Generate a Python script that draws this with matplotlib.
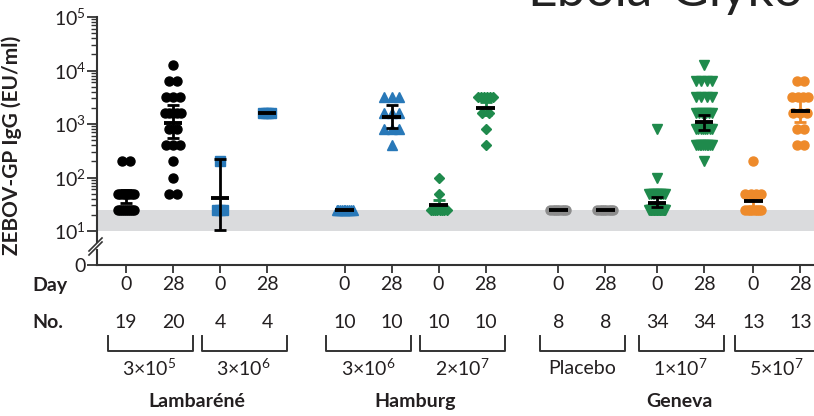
import numpy as np
import matplotlib
matplotlib.use('Agg')
import matplotlib.pyplot as plt
from matplotlib.ticker import FixedLocator, NullFormatter

plt.rcParams['font.family'] = ['Lato', 'DejaVu Sans']
plt.rcParams['mathtext.fontset'] = 'custom'
plt.rcParams['mathtext.rm'] = 'Lato'
plt.rcParams['mathtext.it'] = 'Lato:italic'
plt.rcParams['mathtext.bf'] = 'Lato:bold'

# titer levels (twofold dilutions) and number of subjects at each level per group
titer_levels = [25, 50, 100, 200, 400, 800, 1600, 3200, 6400, 12800]

lamb_3e5_d0 = [9, 8, 0, 2, 0, 0, 0, 0, 0, 0]
lamb_3e5_d28 = [0, 2, 1, 1, 3, 2, 5, 3, 2, 1]
lamb_3e6_d0 = [3, 0, 0, 1, 0, 0, 0, 0, 0, 0]
lamb_3e6_d28 = [0, 0, 0, 0, 0, 0, 4, 0, 0, 0]
ham_3e6_d0 = [10, 0, 0, 0, 0, 0, 0, 0, 0, 0]
ham_3e6_d28 = [0, 0, 0, 0, 1, 3, 3, 3, 0, 0]
ham_2e7_d0 = [8, 1, 1, 0, 0, 0, 0, 0, 0, 0]
ham_2e7_d28 = [0, 0, 0, 0, 1, 1, 2, 6, 0, 0]
plac_d0 = [8, 0, 0, 0, 0, 0, 0, 0, 0, 0]
plac_d28 = [8, 0, 0, 0, 0, 0, 0, 0, 0, 0]
gen_1e7_d0 = [22, 10, 1, 0, 0, 1, 0, 0, 0, 0]
gen_1e7_d28 = [0, 0, 0, 1, 10, 8, 6, 4, 4, 1]
gen_5e7_d0 = [8, 4, 0, 1, 0, 0, 0, 0, 0, 0]
gen_5e7_d28 = [0, 0, 0, 0, 2, 2, 3, 4, 2, 0]

group_counts = [lamb_3e5_d0, lamb_3e5_d28, lamb_3e6_d0, lamb_3e6_d28,
                ham_3e6_d0, ham_3e6_d28, ham_2e7_d0, ham_2e7_d28,
                plac_d0, plac_d28, gen_1e7_d0, gen_1e7_d28, gen_5e7_d0, gen_5e7_d28]

# geometric mean titers and 95% CI
gmt = [44, 1050, 42, 1600, 25, 1370, 31, 1960, 25, 25, 34, 1100, 36, 1770]
ci_low = [33, 550, 10.4, 1600, 25, 830, 25, 1480, 25, 25, 28, 770, 28, 1100]
ci_high = [58, 2260, 220, 1600, 25, 2260, 38, 2600, 25, 25, 44, 1480, 47, 2800]

day_labels = ['0', '28'] * 7
n_labels = ['19', '20', '4', '4', '10', '10', '10', '10', '8', '8', '34', '34', '13', '13']
cohort_labels = ['3×10$^{5}$', '3×10$^{6}$', '3×10$^{6}$', '2×10$^{7}$', 'Placebo', '1×10$^{7}$', '5×10$^{7}$']
site_labels = ['Lambaréné', 'Hamburg', 'Geneva']

# layout / style
positions = [0, 1, 2, 3, 4.65, 5.65, 6.65, 7.65, 9.2, 10.2, 11.3, 12.3, 13.35, 14.35]
blue, green, orange, grey = '#2878b8', '#1f8a4c', '#ee8a2a', '#8c8c8c'
cohort_colors = ['black', blue, blue, green, grey, green, orange]
cohort_markers = ['o', 's', '^', 'D', 'o', 'v', 'o']
cohort_msize = [6.5, 6.5, 7, 5.5, 6.5, 7, 6.5]
cohort_step = [0.15, 0.06, 0.15, 0.15, 0.15, 0.15, 0.15]
cohort_ebar = ['black', 'black', 'black', green, 'black', 'black', orange]
site_cohorts = [[0, 1], [2, 3], [4, 5, 6]]
txt = '#231f20'


def swarm(x0, counts, step=0.15, maxspan=0.34):
    xs, ys = [], []
    for level, n in zip(titer_levels, counts):
        if n == 0:
            continue
        dx = min(step, maxspan / (n - 1)) if n > 1 else 0
        for i in range(n):
            xs.append(x0 + (i - (n - 1) / 2) * dx)
            ys.append(level)
    return xs, ys


fig = plt.figure(figsize=(8.14, 4.16), dpi=100)
ax = fig.add_axes([97 / 814, 1 - 265 / 416, 717 / 814, 248 / 416])

ybot = 10 ** (1 - 34 / 53.5)
ax.set_yscale('log')
ax.set_ylim(ybot, 1e5)
ax.set_xlim(-0.617, 14.64)

ax.axhspan(10, 25, color='#dadbdd', lw=0, zorder=0)

for gi, counts in enumerate(group_counts):
    c = gi // 2
    x = positions[gi]
    xs, ys = swarm(x, counts, step=cohort_step[c])
    ax.plot(xs, ys, ls='none', marker=cohort_markers[c], ms=cohort_msize[c],
            color=cohort_colors[c], mec=cohort_colors[c], zorder=3, clip_on=False)
    err = [[gmt[gi] - ci_low[gi]], [ci_high[gi] - gmt[gi]]]
    if ci_high[gi] > ci_low[gi]:
        ax.errorbar(x, gmt[gi], yerr=err, fmt='none', ecolor=cohort_ebar[c],
                    elinewidth=2, capsize=4.5, capthick=2, zorder=4)
    ax.plot([x - 0.2, x + 0.2], [gmt[gi], gmt[gi]], color='black', lw=2.8,
            solid_capstyle='butt', zorder=5)

# axes styling
for s in ['top', 'right', 'left']:
    ax.spines[s].set_visible(False)
ax.spines['bottom'].set_color('#333333')
ax.spines['bottom'].set_linewidth(1.5)

ax.yaxis.set_major_locator(FixedLocator([ybot, 10, 100, 1e3, 1e4, 1e5]))
ax.set_yticklabels(['0', '10$^{1}$', '10$^{2}$', '10$^{3}$', '10$^{4}$', '10$^{5}$'])
ax.yaxis.set_minor_locator(FixedLocator([m * 10.0 ** k for k in range(1, 5) for m in range(2, 10)]))
ax.yaxis.set_minor_formatter(NullFormatter())
ax.tick_params(axis='y', which='major', length=7, width=1.3, color='#333333',
               labelsize=14, labelcolor=txt, pad=1)
ax.tick_params(axis='y', which='minor', length=4.5, width=1.0, color='#333333')

ax.set_xticks(positions)
ax.set_xticklabels([])
ax.tick_params(axis='x', length=6, width=1.3, color='#333333')

# broken y axis line
ytr = ax.get_yaxis_transform()
ax.plot([0, 0], [10 ** (1 - 11 / 53.5), 1e5], transform=ytr, color='#333333', lw=1.5, clip_on=False)
ax.plot([0, 0], [ybot, 10 ** (1 - 19 / 53.5)], transform=ytr, color='#333333', lw=1.5, clip_on=False)
for dy in [0, 4]:
    y1 = (265 - (251 + dy)) / 248
    y2 = (265 - (238 + dy)) / 248
    ax.plot([-8 / 717, 5 / 717], [y1, y2], transform=ax.transAxes, color='#333333',
            lw=1.2, clip_on=False)

ax.set_ylabel('ZEBOV-GP IgG (EU/ml)', fontsize=15, fontweight='bold', color=txt)
ax.yaxis.set_label_coords(-75 / 717, 0.484)

# rows under the axis
xtr = ax.get_xaxis_transform()
for x, d, n in zip(positions, day_labels, n_labels):
    ax.text(x, -(285 - 265) / 248, d, transform=xtr, ha='center', va='center', fontsize=14, color=txt)
    ax.text(x, -(323 - 265) / 248, n, transform=xtr, ha='center', va='center', fontsize=14, color=txt)
fig.text(32 / 814, 1 - 285 / 416, 'Day', ha='left', va='center', fontsize=14, fontweight='bold', color=txt)
fig.text(32 / 814, 1 - 323 / 416, 'No.', ha='left', va='center', fontsize=14, fontweight='bold', color=txt)

b_top, b_bot = -(336 - 265) / 248, -(351 - 265) / 248
for c, lab in enumerate(cohort_labels):
    x0, x1 = positions[2 * c] - 0.39, positions[2 * c + 1] + 0.42
    ax.plot([x0, x0, x1, x1], [b_top, b_bot, b_bot, b_top], transform=xtr, color='#333333',
            lw=1.4, clip_on=False)
    xm = (positions[2 * c] + positions[2 * c + 1]) / 2
    ax.text(xm, -(368 - 265) / 248, lab, transform=xtr, ha='center', va='center', fontsize=14, color=txt)

for site, cl in zip(site_labels, site_cohorts):
    xm = (positions[2 * cl[0]] + positions[2 * cl[-1] + 1]) / 2
    ax.text(xm, -(402 - 265) / 248, site, transform=xtr, ha='center', va='center', fontsize=14,
            fontweight='bold', color=txt)

# title fragment cut by the top edge (as in the source image)
fig.text(527 / 814, 1 - 6 / 416, 'Ebola-Glyko', ha='left', va='baseline', fontsize=37, color='#222222')

fig.savefig('out.png', dpi=100)
